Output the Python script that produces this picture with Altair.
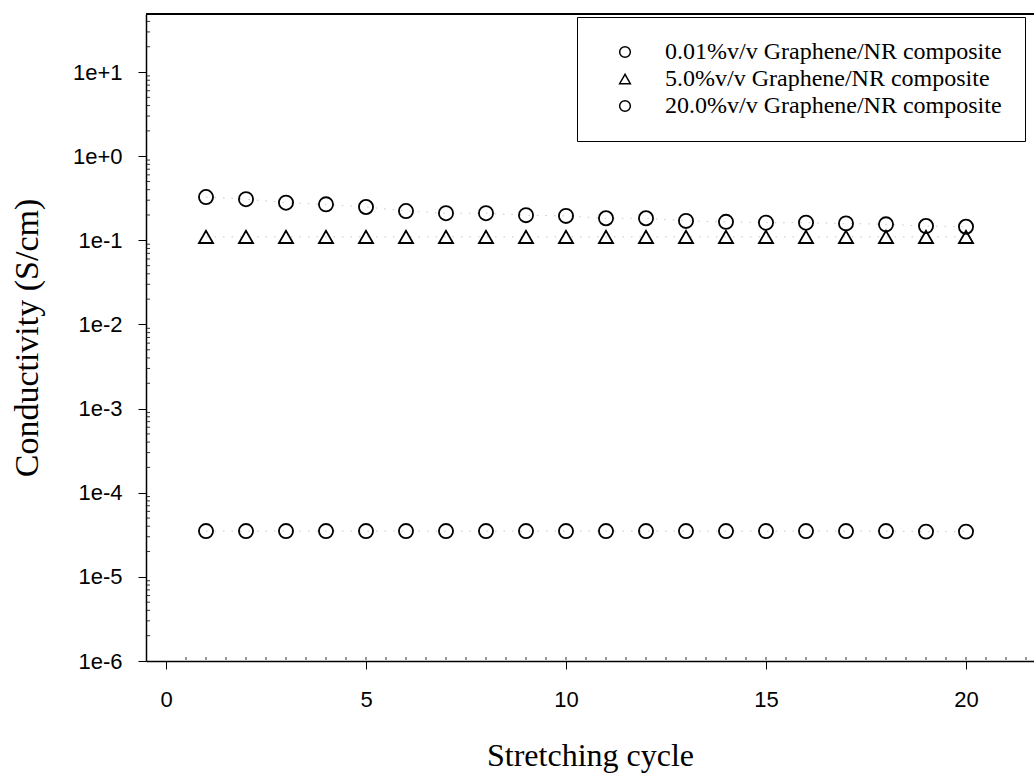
import altair as alt
import pandas as pd

# Stretching cycles and measured conductivity (S/cm) for each composite
cycles = list(range(1, 21))
series_names = [
    "0.01%v/v Graphene/NR composite",
    "5.0%v/v Graphene/NR composite",
    "20.0%v/v Graphene/NR composite",
]
cond_001 = [3.5e-5] * 18 + [3.45e-5, 3.45e-5]
cond_50 = [0.110] * 20
cond_200 = [0.327, 0.308, 0.280, 0.268, 0.249, 0.223, 0.210, 0.210, 0.199, 0.195,
            0.183, 0.183, 0.170, 0.166, 0.162, 0.162, 0.159, 0.155, 0.148, 0.145]

y_major = [1e-6, 1e-5, 1e-4, 1e-3, 1e-2, 1e-1, 1e0, 1e1]
y_minor = [k * 10.0 ** d for d in range(-6, 2) for k in range(2, 10) if k * 10.0 ** d < 49]
x_major = [0, 5, 10, 15, 20]
x_minor = [i * 0.5 for i in range(1, 44)]

rows = []
for name, vals in zip(series_names, [cond_001, cond_50, cond_200]):
    for c, v in zip(cycles, vals):
        rows.append({"cycle": c, "conductivity": v, "series": name})
df = pd.DataFrame(rows)
y_minor_df = pd.DataFrame({"conductivity": y_minor})
x_minor_df = pd.DataFrame({"cycle": x_minor})

W, H = 888, 647
x_scale = alt.Scale(domain=[-0.5, 21.7], nice=False, zero=False)
y_scale = alt.Scale(type="log", domain=[1e-6, 49], nice=False)

label_expr = "datum.value >= 1 ? '1e+' + round(log(datum.value)/LN10) : '1e' + round(log(datum.value)/LN10)"

base = alt.Chart(df)

# faint dotted guides joining the points of each series, carrying the axes
guides = base.mark_line(strokeDash=[1.5, 7], color="#c8c8c8", strokeWidth=1).encode(
    x=alt.X("cycle:Q", scale=x_scale,
            axis=alt.Axis(values=x_major, title="Stretching cycle", grid=False,
                          tickSize=8, tickColor="black", domainColor="black", domainWidth=1.5,
                          labelFont="Liberation Sans", labelFontSize=22, labelColor="black",
                          labelPadding=20, titleFont="Liberation Serif", titleFontSize=32,
                          titleFontWeight="normal", titleColor="black", titlePadding=30)),
    y=alt.Y("conductivity:Q", scale=y_scale,
            axis=alt.Axis(values=y_major, labelExpr=label_expr, title="Conductivity (S/cm)",
                          grid=False, tickSize=8, tickColor="black", domainColor="black",
                          domainWidth=1.5, labelFont="Liberation Sans", labelFontSize=22,
                          labelColor="black", labelPadding=16, titleFont="Liberation Serif",
                          titleFontSize=34, titleFontWeight="normal", titleColor="black",
                          titlePadding=28)),
    detail="series:N",
)

points = base.mark_point(filled=False, size=200, strokeWidth=1.8, color="black", opacity=1).encode(
    x=alt.X("cycle:Q", scale=x_scale),
    y=alt.Y("conductivity:Q", scale=y_scale),
    shape=alt.Shape("series:N", sort=series_names,
                    scale=alt.Scale(domain=series_names, range=["circle", "triangle-up", "circle"]),
                    legend=alt.Legend(orient="none", legendX=431, legendY=3, title=None,
                                      fillColor="white", strokeColor="black", padding=23,
                                      labelFont="Liberation Serif", labelFontSize=24,
                                      labelColor="black", symbolSize=115, symbolStrokeWidth=1.5,
                                      symbolStrokeColor="black", symbolOffset=13, labelOffset=28,
                                      rowPadding=3, labelLimit=0)),
)

# short inward minor ticks along the left and bottom edges
y_minor_ticks = alt.Chart(y_minor_df).mark_rule(color="#333333", strokeWidth=1).encode(
    y=alt.Y("conductivity:Q", scale=y_scale),
    x=alt.value(1), x2=alt.value(4),
)
x_minor_ticks = alt.Chart(x_minor_df).mark_rule(color="#333333", strokeWidth=1).encode(
    x=alt.X("cycle:Q", scale=x_scale),
    y=alt.value(H - 4), y2=alt.value(H - 1),
)

top_edge = alt.Chart(df).mark_rule(color="black", strokeWidth=1.5).encode(
    x=alt.value(0), x2=alt.value(W), y=alt.value(0)
)

chart = (
    alt.layer(guides, points, y_minor_ticks, x_minor_ticks, top_edge)
    .properties(width=W, height=H, autosize=alt.AutoSizeParams(type="none"),
                padding={"left": 146, "top": 14, "right": 0, "bottom": 114})
    .configure_view(strokeWidth=0)
    .configure(background="white")
)

chart.save("out.html", embed_options={"renderer": "svg", "actions": False})
